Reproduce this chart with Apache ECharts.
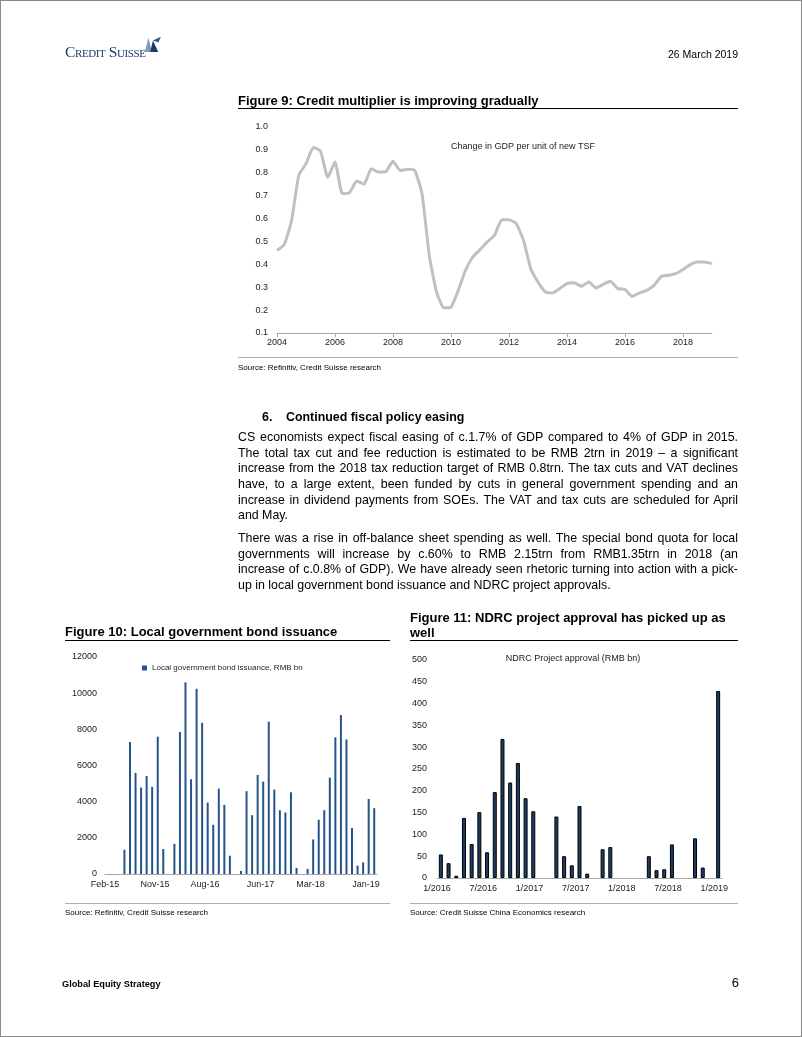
<!DOCTYPE html>
<html><head><meta charset="utf-8">
<script src="https://cdn.jsdelivr.net/npm/echarts/dist/echarts.min.js"></script>
<style>
body{margin:0;background:#fff;}
#page{position:relative;width:802px;height:1037px;overflow:hidden;font-family:'Liberation Sans',Arial,sans-serif;color:#000;}
#chart{position:absolute;left:0;top:0;width:802px;height:1037px;}
.t{position:absolute;white-space:nowrap;}
.ln{position:absolute;}
.jl{width:500px;text-align:justify;text-align-last:justify;white-space:nowrap;height:15.7px;}
.body{position:absolute;left:238px;font-size:12.4px;line-height:15.7px;}
#frame{position:absolute;left:0;top:0;width:802px;height:1037px;box-sizing:border-box;border:1px solid #8a8a8a;pointer-events:none;}
</style></head>
<body><div id="page">
<div id="chart"></div>
<div id="frame"></div>

<!-- header -->
<div class="t" style="left:65px;top:43px;font-family:'Liberation Serif',serif;font-variant:small-caps;font-size:15.5px;color:#1d3a66;letter-spacing:-0.4px;line-height:17px;">Credit Suisse</div>
<svg style="position:absolute;left:141px;top:35px" width="22" height="18" viewBox="0 0 24 20">
 <path d="M4 19 L8 3 L12 19 Z" fill="#7d9bbd"/>
 <path d="M10 19 L13 6 L19 19 Z" fill="#1d3a66"/>
 <path d="M13 6 L22 2 L19 8 Z" fill="#2f527f"/>
</svg>
<div class="t" style="right:64px;top:47px;font-size:10.5px;line-height:14px;">26 March 2019</div>

<!-- Figure 9 -->
<div class="t" style="left:238px;top:94px;font-size:13px;font-weight:bold;line-height:14px;">Figure 9: Credit multiplier is improving gradually</div>
<div class="ln" style="left:238px;top:108px;width:500px;height:1px;background:#000;"></div>
<div class="ln" style="left:238px;top:357px;width:500px;height:1px;background:#b0b0b0;"></div>
<div class="t" style="left:238px;top:363px;font-size:8px;line-height:10px;">Source: Refinitiv, Credit Suisse research</div>

<!-- Section text -->
<div class="t" style="left:262px;top:409px;font-size:12.4px;font-weight:bold;line-height:16px;">6.</div>
<div class="t" style="left:286px;top:409px;font-size:12.4px;font-weight:bold;line-height:16px;">Continued fiscal policy easing</div>
<div class="body" style="top:430px;">
 <div class="jl">CS economists expect fiscal easing of c.1.7% of GDP compared to 4% of GDP in 2015.</div>
 <div class="jl">The total tax cut and fee reduction is estimated to be RMB 2trn in 2019 – a significant</div>
 <div class="jl">increase from the 2018 tax reduction target of RMB 0.8trn. The tax cuts and VAT declines</div>
 <div class="jl">have, to a large extent, been funded by cuts in general government spending and an</div>
 <div class="jl">increase in dividend payments from SOEs. The VAT and tax cuts are scheduled for April</div>
 <div style="height:15.7px;white-space:nowrap;">and May.</div>
</div>
<div class="body" style="top:531px;">
 <div class="jl">There was a rise in off-balance sheet spending as well. The special bond quota for local</div>
 <div class="jl">governments will increase by c.60% to RMB 2.15trn from RMB1.35trn in 2018 (an</div>
 <div class="jl">increase of c.0.8% of GDP). We have already seen rhetoric turning into action with a pick-</div>
 <div style="height:15.7px;white-space:nowrap;">up in local government bond issuance and NDRC project approvals.</div>
</div>

<!-- Figure 10 / 11 titles -->
<div class="t" style="left:65px;top:624px;font-size:13px;font-weight:bold;line-height:15px;">Figure 10: Local government bond issuance</div>
<div class="ln" style="left:65px;top:640px;width:325px;height:1px;background:#000;"></div>
<div class="t" style="left:410px;top:610px;font-size:13px;font-weight:bold;line-height:15px;">Figure 11: NDRC project approval has picked up as<br>well</div>
<div class="ln" style="left:410px;top:640px;width:328px;height:1px;background:#000;"></div>
<div class="ln" style="left:65px;top:903px;width:325px;height:1px;background:#b0b0b0;"></div>
<div class="ln" style="left:410px;top:903px;width:328px;height:1px;background:#b0b0b0;"></div>
<div class="t" style="left:65px;top:908px;font-size:8px;line-height:10px;">Source: Refinitiv, Credit Suisse research</div>
<div class="t" style="left:410px;top:908px;font-size:8px;line-height:10px;">Source: Credit Suisse China Economics research</div>

<!-- footer -->
<div class="t" style="left:62px;top:978px;font-size:9.2px;font-weight:bold;line-height:12px;">Global Equity Strategy</div>
<div class="t" style="right:63px;top:975px;font-size:13px;line-height:16px;">6</div>
</div>

<script>
// ---- Figure 9: change in GDP per unit of new TSF (quarterly, 2004Q1 - 2019Q1)
const fig9StartYear = 2004;
const fig9Values = [0.461,0.486,0.59,0.789,0.84,0.91,0.895,0.78,0.847,0.709,
 0.713,0.764,0.75,0.818,0.803,0.805,0.85,0.81,0.815,0.81,
 0.709,0.44,0.28,0.21,0.213,0.286,0.374,0.432,0.464,0.498,
 0.527,0.595,0.595,0.578,0.505,0.381,0.323,0.28,0.275,0.294,
 0.316,0.319,0.304,0.323,0.297,0.313,0.326,0.294,0.29,0.26,
 0.275,0.286,0.308,0.347,0.352,0.359,0.377,0.399,0.41,0.41,0.403];
const fig9Label = 'Change in GDP per unit of new TSF';
const fig9Categories = fig9Values.map((v,i)=> (fig9StartYear + Math.floor(i/4)) + 'Q' + (i%4+1));

// ---- Figure 10: local government bond issuance, monthly Feb-15 .. Feb-19
const monthNames = ['Jan','Feb','Mar','Apr','May','Jun','Jul','Aug','Sep','Oct','Nov','Dec'];
const fig10Values = [0,0,0,1340,7300,5590,4780,5420,4820,7590,1380,0,
 1670,7850,10600,5240,10240,8360,3950,2720,4720,3820,1010,0,
 160,4580,3250,5480,5110,8420,4670,3530,3400,4520,330,0,
 280,1910,3000,3530,5330,7560,8790,7440,2540,460,640,4150,3640];
const fig10Categories = fig10Values.map((v,i)=>{const m=(1+i)%12; const y=15+Math.floor((1+i)/12); return monthNames[m]+'-'+y;});
const fig10TickLabels = ['Feb-15','Nov-15','Aug-16','Jun-17','Mar-18','Jan-19'];
const fig10Series = 'Local government bond issuance, RMB bn';

// ---- Figure 11: NDRC project approval, monthly Jan-2016 .. Jan-2019
const fig11Values = [54,34,5,138,78,151,59,197,319,219,264,183,
 153,0,0,141,50,29,165,10,0,66,71,0,
 0,0,0,50,18,20,77,0,0,91,24,0,
 429];
const fig11Categories = fig11Values.map((v,i)=> ((i%12)+1)+'/'+(2016+Math.floor(i/12)));
const fig11TickLabels = ['1/2016','7/2016','1/2017','7/2017','1/2018','7/2018','1/2019'];
const fig11Label = 'NDRC Project approval (RMB bn)';

const NARROW = "'Liberation Sans Narrow','Arial Narrow','Liberation Sans',sans-serif";
const AX = '#a6a6a6';
const LBL = '#222';
const FS = 9;

const g10 = {left:105, top:657, width:272, height:217};
const g11 = {left:437, top:660, width:285, height:218};
const band10 = g10.width / fig10Values.length;
const band11 = g11.width / fig11Values.length;

const chart = echarts.init(document.getElementById('chart'), null, {renderer:'canvas'});
chart.setOption({
  animation:false,
  grid:[
    {left:277, top:127, width:435, height:206},
    g10, g11
  ],
  legend:{
    data:[fig10Series], left:142, top:664, padding:0, itemWidth:5, itemHeight:5, icon:'rect',
    textStyle:{fontSize:8, fontFamily:NARROW, color:LBL}
  },
  xAxis:[
    {gridIndex:0, type:'category', data:fig9Categories, boundaryGap:false,
     axisLine:{lineStyle:{color:AX}},
     axisTick:{interval:7, length:4, lineStyle:{color:AX}},
     axisLabel:{interval:7, formatter:v=>v.slice(0,4), fontSize:FS, fontFamily:NARROW, color:LBL, margin:5}},
    {gridIndex:1, type:'category', data:fig10Categories, boundaryGap:true,
     axisLine:{lineStyle:{color:AX}},
     axisTick:{interval:(i,v)=>fig10TickLabels.includes(v), length:3, lineStyle:{color:AX}},
     axisLabel:{interval:(i,v)=>fig10TickLabels.includes(v), fontSize:FS, fontFamily:NARROW, color:LBL, margin:6, padding:[0,band10,0,0]}},
    {gridIndex:2, type:'category', data:fig11Categories, boundaryGap:true,
     axisLine:{lineStyle:{color:AX}},
     axisTick:{interval:(i,v)=>fig11TickLabels.includes(v), length:3, lineStyle:{color:AX}},
     axisLabel:{interval:(i,v)=>fig11TickLabels.includes(v), fontSize:FS, fontFamily:NARROW, color:LBL, margin:6, padding:[0,band11,0,0]}}
  ],
  yAxis:[
    {gridIndex:0, type:'value', min:0.1, max:1.0, interval:0.1,
     axisLine:{show:false}, axisTick:{show:false}, splitLine:{show:false},
     axisLabel:{formatter:v=>v.toFixed(1), fontSize:FS, fontFamily:NARROW, color:LBL, margin:9}},
    {gridIndex:1, type:'value', min:0, max:12000, interval:2000,
     axisLine:{show:false}, axisTick:{show:false}, splitLine:{show:false},
     axisLabel:{formatter:v=>String(v), fontSize:FS, fontFamily:NARROW, color:LBL, margin:8}},
    {gridIndex:2, type:'value', min:0, max:500, interval:50,
     axisLine:{show:false}, axisTick:{show:false}, splitLine:{show:false},
     axisLabel:{fontSize:FS, fontFamily:NARROW, color:LBL, margin:10}}
  ],
  series:[
    {type:'line', name:fig9Label, xAxisIndex:0, yAxisIndex:0, data:fig9Values, symbol:'none', smooth:0.15,
     lineStyle:{color:'#c0c0c0', width:3}},
    {type:'bar', name:fig10Series, xAxisIndex:1, yAxisIndex:1, data:fig10Values, barWidth:2,
     itemStyle:{color:'#26548a'}},
    {type:'bar', name:fig11Label, xAxisIndex:2, yAxisIndex:2, data:fig11Values.map(v=>v||null), barWidth:4,
     itemStyle:{color:'#1c3d63', borderColor:'#000', borderWidth:1}}
  ],
  graphic:[
    {type:'text', x:523, y:147, style:{text:fig9Label, fontSize:FS, fontFamily:NARROW, fill:LBL, textAlign:'center', textVerticalAlign:'middle', align:'center', verticalAlign:'middle'}},
    {type:'text', x:573, y:659, style:{text:fig11Label, fontSize:FS, fontFamily:NARROW, fill:LBL, textAlign:'center', textVerticalAlign:'middle', align:'center', verticalAlign:'middle'}}
  ]
});
</script>
</body></html>
